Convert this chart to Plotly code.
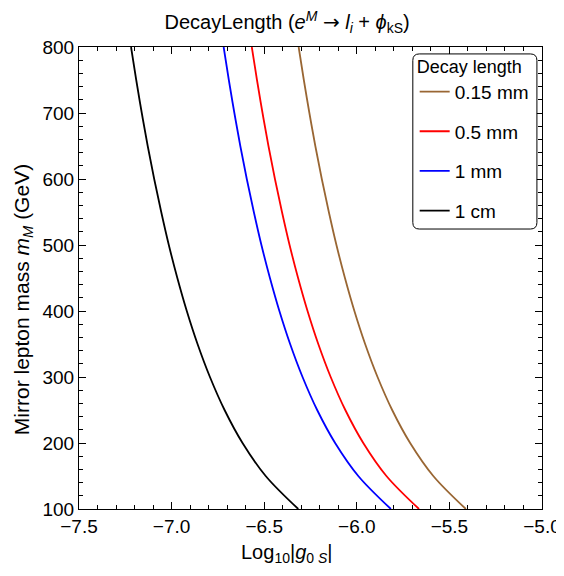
import plotly.graph_objects as go

# mirror lepton mass (GeV) and log10|g0S|
mass = [100, 150, 200, 250, 300, 350, 400, 450, 500, 550, 600, 650, 700, 750, 800]
g_015mm = [-5.411, -5.587, -5.712, -5.809, -5.888, -5.955, -6.013, -6.064, -6.110, -6.151, -6.189, -6.224, -6.256, -6.286, -6.314]
g_05mm = [-5.664, -5.840, -5.965, -6.062, -6.141, -6.208, -6.266, -6.317, -6.363, -6.404, -6.442, -6.477, -6.509, -6.539, -6.567]
g_1mm = [-5.816, -5.992, -6.117, -6.214, -6.293, -6.360, -6.418, -6.469, -6.515, -6.556, -6.594, -6.629, -6.661, -6.691, -6.719]
g_1cm = [-6.316, -6.492, -6.617, -6.714, -6.793, -6.860, -6.918, -6.969, -7.015, -7.056, -7.094, -7.129, -7.161, -7.191, -7.219]

labels = ['0.15 mm', '0.5 mm', '1 mm', '1 cm']
colors = ['#996633', '#ff0000', '#0000ff', '#000000']
series = [g_015mm, g_05mm, g_1mm, g_1cm]

FONT = 'Liberation Sans, Arial, sans-serif'

fig = go.Figure()
for lab, col, g in zip(labels, colors, series):
    fig.add_trace(go.Scatter(x=g, y=mass, mode='lines', name=lab,
                             legendgroup=lab, line_shape='spline',
                             line=dict(color=col, width=1.8)))

axis_common = dict(showgrid=False, zeroline=False, showline=True,
                   linecolor='black', linewidth=1, mirror='ticks',
                   ticks='inside', ticklen=7, tickcolor='black', automargin=False,
                   tickfont=dict(size=19, color='black', family=FONT))

fig.update_xaxes(range=[-7.5, -5.0], dtick=0.5, tickformat='.1f',
                 minor=dict(dtick=0.1, ticks='inside', ticklen=4, tickcolor='black'),
                 **axis_common)
fig.update_yaxes(range=[100, 800], dtick=100,
                 minor=dict(dtick=20, ticks='inside', ticklen=4, tickcolor='black'),
                 **axis_common)

# axis titles (centred on the image, not the frame, like the original)
fig.add_annotation(text='Log<sub>10</sub>|<i>g</i><sub>0 <i>S</i></sub>|',
                   xref='paper', yref='paper', x=0.449, y=0, yanchor='middle',
                   yshift=-44, showarrow=False,
                   font=dict(size=20, family=FONT, color='black'))
fig.add_annotation(text='Mirror lepton mass <i>m</i><sub><i>M</i></sub> (GeV)',
                   xref='paper', yref='paper', x=0, y=0.452, xanchor='center',
                   xshift=-56, textangle=-90, showarrow=False,
                   font=dict(size=21, family=FONT, color='black'))

# rounded frame for the legend
x0, x1, y0, y1, r = 0.721, 0.989, 0.606, 0.985, 0.014
path = (f'M {x0+r},{y0} L {x1-r},{y0} Q {x1},{y0} {x1},{y0+r} '
        f'L {x1},{y1-r} Q {x1},{y1} {x1-r},{y1} L {x0+r},{y1} '
        f'Q {x0},{y1} {x0},{y1-r} L {x0},{y0+r} Q {x0},{y0} {x0+r},{y0} Z')
fig.add_shape(type='path', path=path, xref='paper', yref='paper',
              line=dict(color='black', width=1), fillcolor='white', layer='above')

title_text = ('DecayLength (<i>e</i><sup><i>M</i></sup> '
              '<span style="font-family:DejaVu Sans">→</span> '
              '<i>l</i><sub><i>i</i></sub> + <i>ϕ</i><sub>kS</sub>)')

fig.update_layout(
    width=556, height=568,
    margin=dict(l=71, r=22, t=39, b=67),
    paper_bgcolor='white', plot_bgcolor='white',
    font=dict(family=FONT, color='black'),
    title=dict(text=title_text,
               x=0.502, xanchor='center', y=0.975, yanchor='middle', automargin=False,
               font=dict(size=20, family=FONT, color='black')),
    legend=dict(x=0.725, y=0.995, xanchor='left', yanchor='top',
                bgcolor='rgba(0,0,0,0)', borderwidth=0,
                title=dict(text='Decay length', font=dict(size=18)),
                font=dict(size=19, family=FONT, color='black'),
                tracegroupgap=12, itemwidth=30),
)

fig.write_html("out.html")
